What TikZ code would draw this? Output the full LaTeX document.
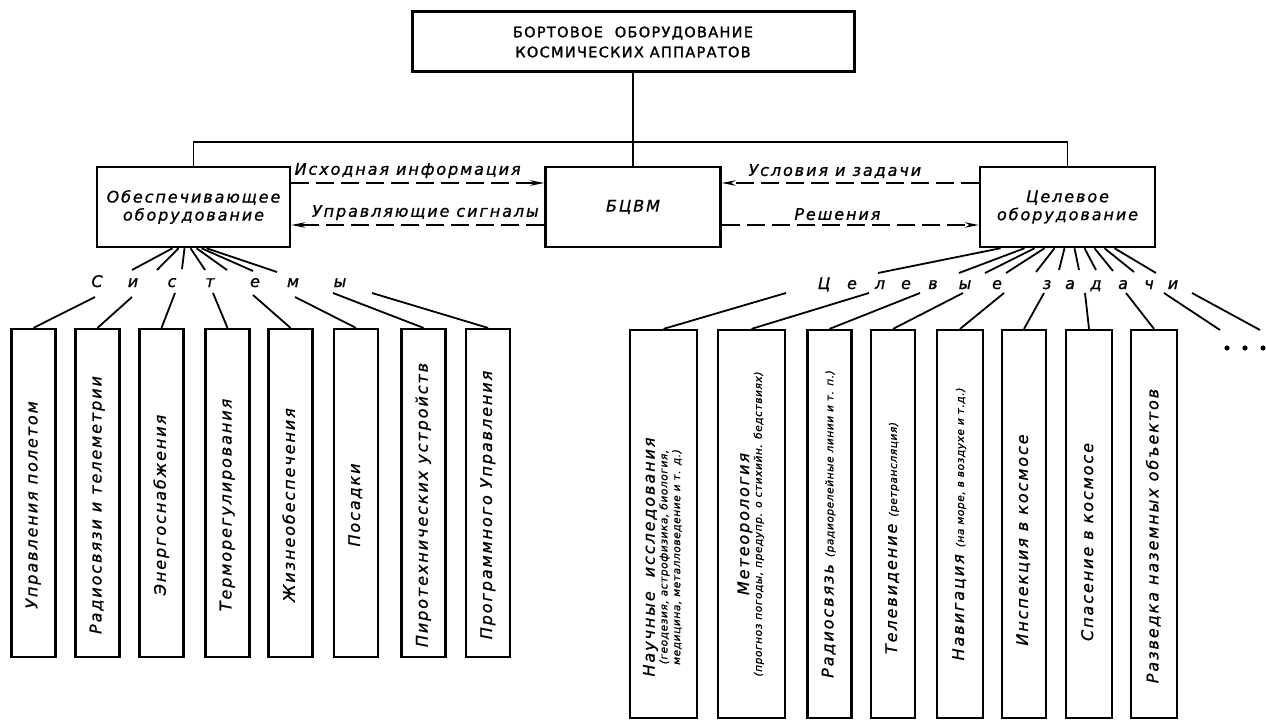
\documentclass[tikz,border=0pt]{standalone}
\usepackage{fontspec}
\usepackage{graphicx}
\setmainfont{DejaVu Sans}
\newfontfamily\gost[LetterSpace=12, FakeBold=1]{DejaVu Sans}
\newcommand{\smallgost}{\fontsize{10.5}{12}\selectfont\addfontfeatures{LetterSpace=6}}
\newcommand{\vtext}[2][0pt]{\rotatebox{90}{\renewcommand{\arraystretch}{0.75}\begin{tabular}{@{}c@{}}#2\end{tabular}\hspace*{#1}}}
\usetikzlibrary{arrows.meta}

\tikzset{
    block/.style={draw, line width=2.5pt, inner sep=0pt, align=center,
        font=\gost\itshape\fontsize{16}{18}\selectfont},
    sysbox/.style={draw, line width=2.2pt, inner sep=0pt, minimum width=44pt,
        minimum height=328pt, font=\gost\itshape\fontsize{16}{17}\selectfont},
    taskbox/.style={sysbox, minimum height=388pt},
    letter/.style={anchor=base, inner sep=0pt, font=\gost\itshape\fontsize{16}{18}\selectfont},
    flow/.style={dash pattern=on 18pt off 7pt, -{Stealth[length=14pt, width=5.5pt]}},
    flowlabel/.style={above=4pt, inner sep=0pt, font=\gost\itshape\fontsize{16}{18}\selectfont},
}

\begin{document}
\begin{tikzpicture}[x=1pt, y=-1pt, line width=1.8pt]
    \useasboundingbox (0,0) rectangle (1266,722);

    % Top block
    \node[block, line width=3pt, minimum width=442pt, minimum height=60pt,
        font=\gost\addfontfeatures{LetterSpace=9, FakeBold=1.6}\fontsize{14.5}{20}\selectfont] (bort) at (633,42)
        {БОРТОВОЕ\ \ ОБОРУДОВАНИЕ\\КОСМИЧЕСКИХ АППАРАТОВ};

    % Second row
    \node[block, minimum width=193pt, minimum height=80pt] (obesp) at (193.5,207) {Обеспечивающее\\оборудование};
    \node[block, minimum width=175pt, minimum height=80pt] (bcvm) at (633,207) {БЦВМ};
    \node[block, minimum width=175pt, minimum height=80pt] (celev) at (1067.5,207) {Целевое\\оборудование};

    % Tree lines
    \coordinate (bus) at (633,142);
    \draw (bort) -- (bcvm);
    \draw (obesp.north) |- (bus) -| (celev.north);

    % Information flows
    \draw[flow] ([yshift=24pt]obesp.east) -- node[flowlabel, pos=0.46] {Исходная информация} ([yshift=24pt]bcvm.west);
    \draw[flow] ([yshift=-18pt]bcvm.west) -- node[flowlabel, pos=0.47] {Управляющие сигналы} ([yshift=-18pt]obesp.east);
    \draw[flow] ([yshift=24pt]celev.west) -- node[flowlabel, pos=0.56] {Условия и задачи} ([yshift=24pt]bcvm.east);
    \draw[flow] ([yshift=-18pt]bcvm.east) -- node[flowlabel, pos=0.45] {Решения} ([yshift=-18pt]celev.west);

    % Letters "Системы"
    \node[letter] (s1) at (97,287) {С};
    \node[letter] (s2) at (133,287) {и};
    \node[letter] (s3) at (172,287) {с};
    \node[letter] (s4) at (210,287) {т};
    \node[letter] (s5) at (255,287) {е};
    \node[letter] (s6) at (293,287) {м};
    \node[letter] (s7) at (340,287) {ы};

    % Letters "Целевые задачи"
    \node[letter] (z1) at (824,289) {Ц};
    \node[letter] (z2) at (852,289) {е};
    \node[letter] (z3) at (880,289) {л};
    \node[letter] (z4) at (906,289) {е};
    \node[letter] (z5) at (933,289) {в};
    \node[letter] (z6) at (965,289) {ы};
    \node[letter] (z7) at (997,289) {е};
    \node[letter] (z8) at (1047,289) {з};
    \node[letter] (z9) at (1070,289) {а};
    \node[letter] (z10) at (1096,289) {д};
    \node[letter] (z11) at (1123,289) {а};
    \node[letter] (z12) at (1149,289) {ч};
    \node[letter] (z13) at (1173,289) {и};

    % Systems
    \node[sysbox] (upr) at (33.5,493) {\vtext[24pt]{Управления полетом}};
    \node[sysbox] (radio) at (97.5,493) {\vtext[24pt]{Радиосвязи и телеметрии}};
    \node[sysbox] (energ) at (161.5,493) {\vtext[24pt]{Энергоснабжения}};
    \node[sysbox] (term) at (227.5,493) {\vtext[24pt]{Терморегулирования}};
    \node[sysbox] (zhizn) at (290.5,493) {\vtext[24pt]{Жизнеобеспечения}};
    \node[sysbox] (posad) at (356,493) {\vtext[24pt]{Посадки}};
    \node[sysbox] (piro) at (423.5,493) {\vtext[24pt]{Пиротехнических устройств}};
    \node[sysbox] (progr) at (488,493) {\vtext[24pt]{Программного Управления}};

    % Target tasks
    \node[taskbox, minimum width=67pt] (nauch) at (663.5,524)
        {\vtext[66pt]{{\fontsize{16}{16}\selectfont Научные\ \ исследования}\\
        \smallgost (геодезия, астрофизика, биология,\\
        \smallgost медицина, металловедение и т. д.)}};
    \node[taskbox, minimum width=67pt] (meteo) at (751.5,524)
        {\vtext{{\fontsize{16}{16}\selectfont Метеорология}\\
        \smallgost (прогноз погоды, предупр. о стихийн. бедствиях)}};
    \node[taskbox] (radsv) at (829.5,524) {\vtext{Радиосвязь {\smallgost (радиорелейные линии и т. п.)}}};
    \node[taskbox] (telev) at (893,524) {\vtext[28pt]{Телевидение {\smallgost (ретрансляция)}}};
    \node[taskbox, minimum width=46pt] (navig) at (960,524) {\vtext{Навигация {\smallgost (на море, в воздухе и т.д.)}}};
    \node[taskbox] (inspek) at (1024,524) {\vtext[32pt]{Инспекция в космосе}};
    \node[taskbox, minimum width=46pt] (spas) at (1089,524) {\vtext[36pt]{Спасение в космосе}};
    \node[taskbox, minimum width=46pt] (razv) at (1154,524) {\vtext[24pt]{Разведка наземных объектов}};

    % Fan to systems, above the letters
    \coordinate (su1) at (132,270);
    \coordinate (su2) at (157,270);
    \coordinate (su3) at (182,269);
    \coordinate (su4) at (205,270);
    \coordinate (su5) at (227,270);
    \coordinate (su6) at (253,271);
    \coordinate (su7) at (277,272);
    \draw (obesp.south) ++(-21,0) -- (su1);
    \draw (obesp.south) ++(-15,0) -- (su2);
    \draw (obesp.south) ++(-9,0) -- (su3);
    \draw (obesp.south) ++(-3,0) -- (su4);
    \draw (obesp.south) ++(3,0) -- (su5);
    \draw (obesp.south) ++(8,0) -- (su6);
    \draw (obesp.south) ++(13,0) -- (su7);

    % Fan to systems, below the letters
    \coordinate (sl1) at (95,297);
    \coordinate (sl2) at (132,297);
    \coordinate (sl3) at (175,293);
    \coordinate (sl4) at (213,293);
    \coordinate (sl5) at (253,295);
    \coordinate (sl6) at (295,297);
    \coordinate (sl7) at (333,293);
    \coordinate (sl8) at (372,293);
    \draw (sl1) -- (upr.north);
    \draw (sl2) -- (radio.north);
    \draw (sl3) -- (energ.north);
    \draw (sl4) -- (term.north);
    \draw (sl5) -- (zhizn.north);
    \draw (sl6) -- (posad.north);
    \draw (sl7) -- (piro.north);
    \draw (sl8) -- (progr.north);

    % Fan to tasks, above the letters
    \coordinate (zu1) at (878,273);
    \coordinate (zu2) at (959,273);
    \coordinate (zu3) at (985,273);
    \coordinate (zu4) at (1006,273);
    \coordinate (zu5) at (1036,272);
    \coordinate (zu6) at (1059,270);
    \coordinate (zu7) at (1079,270);
    \coordinate (zu8) at (1096,270);
    \coordinate (zu9) at (1113,271);
    \coordinate (zu10) at (1134,272);
    \coordinate (zu11) at (1156,273);
    \draw (celev.south) ++(-67,0) -- (zu1);
    \draw (celev.south) ++(-43,0) -- (zu2);
    \draw (celev.south) ++(-33,0) -- (zu3);
    \draw (celev.south) ++(-23,0) -- (zu4);
    \draw (celev.south) ++(-13,0) -- (zu5);
    \draw (celev.south) ++(-3,0) -- (zu6);
    \draw (celev.south) ++(7,0) -- (zu7);
    \draw (celev.south) ++(17,0) -- (zu8);
    \draw (celev.south) ++(27,0) -- (zu9);
    \draw (celev.south) ++(37,0) -- (zu10);
    \draw (celev.south) ++(47,0) -- (zu11);

    % Fan to tasks, below the letters
    \coordinate (zl1) at (786,293);
    \coordinate (zl2) at (869,293);
    \coordinate (zl3) at (920,293);
    \coordinate (zl4) at (963,293);
    \coordinate (zl5) at (1004,293);
    \coordinate (zl6) at (1044,293);
    \coordinate (zl7) at (1085,293);
    \coordinate (zl8) at (1126,293);
    \coordinate (zl9) at (1164,293);
    \coordinate (zl10) at (1192,293);
    \coordinate (more1) at (1220,330);
    \coordinate (more2) at (1260,330);
    \draw (zl1) -- (nauch.north);
    \draw (zl2) -- (meteo.north);
    \draw (zl3) -- (radsv.north);
    \draw (zl4) -- (telev.north);
    \draw (zl5) -- (navig.north);
    \draw (zl6) -- (inspek.north);
    \draw (zl7) -- (spas.north);
    \draw (zl8) -- (razv.north);
    \draw (zl9) -- (more1);
    \draw (zl10) -- (more2);

    % Dots
    \fill (1227,348) circle (2.6pt);
    \fill (1245,348) circle (2.6pt);
    \fill (1263,348) circle (2.6pt);
\end{tikzpicture}
\end{document}
